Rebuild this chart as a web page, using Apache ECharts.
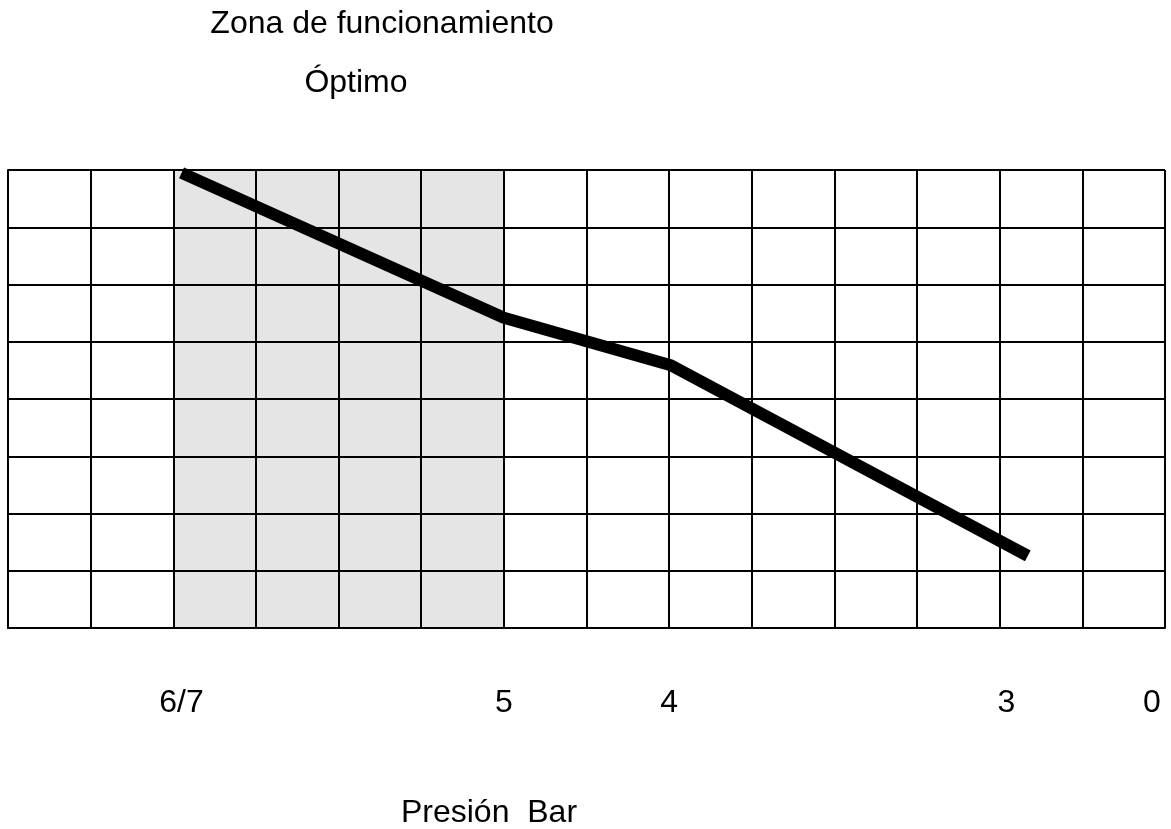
<!DOCTYPE html>
<html>
<head>
<meta charset="utf-8">
<title>Zona de funcionamiento</title>
<script src="https://cdn.jsdelivr.net/npm/echarts@6/dist/echarts.min.js"></script>
<style>
  html, body { margin: 0; padding: 0; background: #fff; }
  #chart { width: 1171px; height: 829px; }
</style>
</head>
<body>
<div id="chart"></div>
<script>
// posiciones medidas en celdas de la cuadricula (14 x 8)
var curvaX = [2.1, 6.0, 8.02, 12.34];
var curvaY = [7.95, 5.42, 4.59, 1.26];
var etiquetas = ['6/7', '5', '4', '3', '0'];
var etiquetasPos = [2.1, 6.0, 8.0, 12.08, 13.84];
var zonaOptima = [2, 6];

var fuente = '"Liberation Sans", Arial, sans-serif';
var myChart = echarts.init(document.getElementById('chart'));

var puntos = curvaX.map(function (x, i) { return [x, curvaY[i]]; });

myChart.setOption({
  animation: false,
  backgroundColor: '#fff',
  grid: { left: 8, top: 170, width: 1157, height: 458, show: false },
  xAxis: {
    type: 'value', min: 0, max: 14, interval: 1, z: 3,
    axisLine: { show: true, onZero: false, lineStyle: { color: '#000', width: 2 } },
    axisTick: { show: false },
    splitLine: { show: true, lineStyle: { color: '#000', width: 2 } },
    axisLabel: {
      customValues: etiquetasPos,
      margin: 75,
      verticalAlign: 'middle',
      fontSize: 32, color: '#000', fontFamily: fuente,
      formatter: function (v) {
        var i = etiquetasPos.indexOf(v);
        return i >= 0 ? etiquetas[i] : '';
      }
    }
  },
  yAxis: {
    type: 'value', min: 0, max: 8, interval: 1, z: 3,
    axisLine: { show: true, lineStyle: { color: '#000', width: 2 } },
    axisTick: { show: false },
    axisLabel: { show: false },
    splitLine: { show: true, lineStyle: { color: '#000', width: 2 } }
  },
  series: [
    {
      // zona sombreada (debajo de la cuadricula)
      type: 'line', z: 1, data: [], silent: true,
      markArea: {
        silent: true,
        itemStyle: { color: '#e5e5e5' },
        data: [[{ xAxis: zonaOptima[0] }, { xAxis: zonaOptima[1] }]]
      }
    },
    {
      type: 'line', z: 5,
      data: puntos,
      symbol: 'none',
      lineStyle: { color: '#000', width: 12, cap: 'butt', join: 'bevel' }
    }
  ],
  graphic: [
    { type: 'text', x: 382, y: 24, style: { text: 'Zona de funcionamiento', font: '32px ' + fuente, fill: '#000', align: 'center', verticalAlign: 'middle' } },
    { type: 'text', x: 356, y: 83, style: { text: 'Óptimo', font: '32px ' + fuente, fill: '#000', align: 'center', verticalAlign: 'middle' } },
    { type: 'text', x: 489, y: 813, style: { text: 'Presión  Bar', font: '32px ' + fuente, fill: '#000', align: 'center', verticalAlign: 'middle' } }
  ]
});
</script>
</body>
</html>
